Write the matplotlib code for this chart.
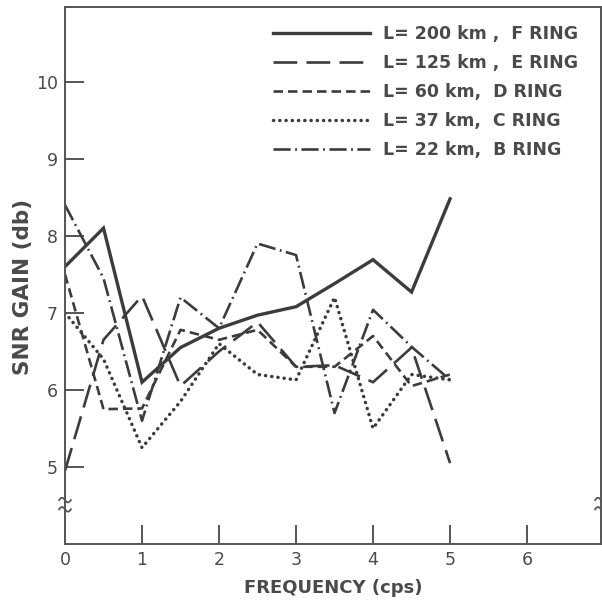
import numpy as np
import matplotlib
matplotlib.use("Agg")
import matplotlib.pyplot as plt
import matplotlib.transforms as mtransforms

# ---- data ----
freq = [0, 0.5, 1.0, 1.5, 2.0, 2.5, 3.0, 3.5, 4.0, 4.5, 5.0]
f_ring = [7.6, 8.1, 6.1, 6.55, 6.8, 6.97, 7.08, 7.38, 7.69, 7.27, 8.48]
e_ring = [4.95, 6.65, 7.22, 6.05, 6.5, 6.88, 6.3, 6.32, 6.1, 6.55, 5.05]
d_ring = [7.5, 5.75, 5.76, 6.78, 6.65, 6.78, 6.3, 6.3, 6.7, 6.05, 6.2]
c_ring = [7.0, 6.4, 5.25, 5.85, 6.6, 6.2, 6.13, 7.2, 5.5, 6.2, 6.13]
b_ring = [8.4, 7.45, 5.6, 7.2, 6.8, 7.9, 7.75, 5.7, 7.04, 6.56, 6.13]
labels = ["L= 200 km ,  F RING", "L= 125 km ,  E RING", "L= 60 km,  D RING",
          "L= 37 km,  C RING", "L= 22 km,  B RING"]
xticks = [0, 1, 2, 3, 4, 5, 6]
yticks = [5, 6, 7, 8, 9, 10]
break_levels = [4.57, 4.45]

ink = "#3c3c3c"
grey = "#555555"
fig = plt.figure(figsize=(6.02, 6.02), dpi=100)
ax = fig.add_axes([65/602, 1-544/602, 536/602, 537/602])
ax.set_xlim(0, 6.96)
ax.set_ylim(4.0, 10.97)

lw = 1.9
l1, = ax.plot(freq, f_ring, color=ink, lw=2.4, solid_joinstyle="miter")
l2, = ax.plot(freq, e_ring, color=ink, lw=lw, linestyle=(0, (9, 3.5)))
l3, = ax.plot(freq, d_ring, color=ink, lw=lw, linestyle=(0, (3.6, 1.9)))
l4, = ax.plot(freq, c_ring, color=ink, lw=2.5, linestyle=(0, (0.05, 1.75)),
              dash_capstyle="round")
l5, = ax.plot(freq, b_ring, color=ink, lw=lw, linestyle=(0, (6.5, 1.7, 0.7, 1.7)))

leg = ax.legend([l1, l2, l3, l4, l5], labels, loc="upper right",
                bbox_to_anchor=(0.99, 1.0), frameon=False, handlelength=5.6,
                handletextpad=0.75, labelspacing=0.64, borderaxespad=0.62,
                prop={"size": 12.5, "weight": "bold"})
for t in leg.get_texts():
    t.set_color("#4a4a4a")

for s in ax.spines.values():
    s.set_color(grey)
    s.set_linewidth(1.4)

ax.set_xticks(xticks)
ax.set_yticks(yticks)
ax.tick_params(axis="both", direction="in", colors=grey, width=1.4,
               labelsize=12.5, labelcolor="#4a4a4a")
ax.tick_params(axis="y", length=14, pad=5)
ax.tick_params(axis="x", length=14, pad=5)
ax.set_xlabel("FREQUENCY (cps)", fontsize=13, fontweight="bold",
              color="#4a4a4a", labelpad=7)
ax.set_ylabel("SNR GAIN (db)", fontsize=15.5, fontweight="bold",
              color="#4a4a4a")
ax.yaxis.set_label_coords(-0.06, 0.479)

# axis break marks (small tildes) on the left and right spines
tr = mtransforms.blended_transform_factory(ax.transAxes, ax.transData)
tt = np.linspace(0, 1, 30)
for xa in (0.0, 1.0):
    for yb in break_levels:
        ax.plot(xa + 0.022 * (tt - 0.5), yb + 0.03 * np.sin(2 * np.pi * tt),
                transform=tr, color=grey, lw=1.3, clip_on=False)

fig.savefig("out.png", dpi=100)
